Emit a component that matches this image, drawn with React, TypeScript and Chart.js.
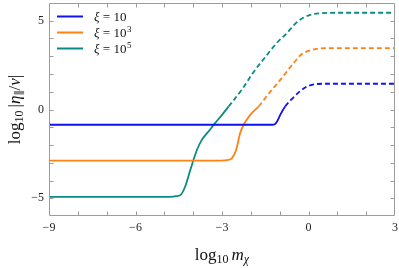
import React, { useEffect, useRef } from "react";
import { Chart, registerables } from "chart.js";

Chart.register(...registerables);

const X_MIN = -9;
const X_MAX = 3;
const Y_MIN = -6;
const Y_MAX = 6;
const xTickLabels = [-9, -6, -3, 0, 3];
const yTickLabels = [-5, 0, 5];

const seriesBase = ["10", "10", "10"];
const seriesExp = ["", "3", "5"];
const seriesColors = ["#1212ee", "#ff8214", "#0b8a84"];

const blueX = [-9, -2, -1.3, -1.21, -1.15, -1.09, -0.98, -0.81, -0.6, -0.35, -0.1, 0.15, 0.5, 1.2, 3];
const blueY = [-0.86, -0.86, -0.86, -0.85, -0.8, -0.68, -0.3, 0.17, 0.55, 0.95, 1.25, 1.4, 1.45, 1.45, 1.45];

const orangeX = [-9, -3.2, -2.9, -2.78, -2.66, -2.51, -2.37, -2.25, -2.02, -1.73, -1.4, -0.98, -0.5, -0.25, 0, 0.3, 0.8, 3];
const orangeY = [-2.88, -2.88, -2.87, -2.84, -2.75, -2.28, -1.33, -0.86, -0.3, 0.17, 0.85, 1.67, 2.65, 3.1, 3.3, 3.42, 3.46, 3.46];

const tealX = [-9, -5, -4.7, -4.6, -4.45, -4.28, -4.1, -3.99, -3.87, -3.7, -3.47, -3.24, -3.0, -2.77, -2.3, -1.91, -1.5, -1.1, -0.75, -0.45, -0.2, 0.1, 0.5, 1, 3];
const tealY = [-4.92, -4.92, -4.91, -4.88, -4.83, -4.35, -3.41, -2.84, -2.28, -1.71, -1.24, -0.77, -0.3, 0.17, 1.15, 2.1, 2.95, 3.75, 4.3, 4.85, 5.15, 5.35, 5.43, 5.45, 5.45];

const DASH_THRESHOLD = 0.1;
const SERIF = "'Liberation Serif', 'DejaVu Serif', serif";

type Run = { text: string; font: string; dy?: number };

function drawRuns(ctx: CanvasRenderingContext2D, runs: Run[], cx: number, baseline: number) {
  let total = 0;
  const widths = runs.map((r) => {
    ctx.font = r.font;
    const w = ctx.measureText(r.text).width;
    total += w;
    return w;
  });
  let x = cx - total / 2;
  ctx.textAlign = "left";
  ctx.textBaseline = "alphabetic";
  runs.forEach((r, i) => {
    ctx.font = r.font;
    ctx.fillText(r.text, x, baseline + (r.dy || 0));
    x += widths[i];
  });
}

const decorPlugin = {
  id: "decor",
  afterDatasetsDraw(chart: any) {
    const { ctx, chartArea: a, scales } = chart;
    ctx.save();
    const L = Math.round(a.left) + 0.5;
    const R = Math.round(a.right) - 0.5;
    const T = Math.round(a.top) + 0.5;
    const B = Math.round(a.bottom) - 0.5;
    ctx.strokeStyle = "#9c9c9c";
    ctx.lineWidth = 1;
    ctx.beginPath();
    ctx.rect(L, T, R - L, B - T);
    ctx.stroke();
    const tl = 4;
    ctx.beginPath();
    for (let v = X_MIN + 1; v < X_MAX; v++) {
      const px = Math.round(scales.x.getPixelForValue(v)) + 0.5;
      ctx.moveTo(px, B);
      ctx.lineTo(px, B - tl);
      ctx.moveTo(px, T);
      ctx.lineTo(px, T + tl);
    }
    for (let v = Y_MIN + 1; v < Y_MAX; v++) {
      const py = Math.round(scales.y.getPixelForValue(v)) + 0.5;
      ctx.moveTo(L, py);
      ctx.lineTo(L + tl, py);
      ctx.moveTo(R, py);
      ctx.lineTo(R - tl, py);
    }
    ctx.stroke();

    // legend
    ctx.fillStyle = "#111";
    const lx0 = a.left + 8;
    const lx1 = a.left + 34;
    chart.data.datasets.forEach((ds: any, i: number) => {
      const y = a.top + 13.5 + i * 16;
      ctx.strokeStyle = ds.borderColor;
      ctx.lineWidth = 2;
      ctx.beginPath();
      ctx.moveTo(lx0, y);
      ctx.lineTo(lx1, y);
      ctx.stroke();
      ctx.textAlign = "left";
      ctx.textBaseline = "alphabetic";
      let x = a.left + 45;
      const bl = y + 4.5;
      ctx.font = `italic 13px ${SERIF}`;
      ctx.fillText("ξ", x, bl);
      x += ctx.measureText("ξ").width;
      ctx.font = `13px ${SERIF}`;
      const mid = " = " + seriesBase[i];
      ctx.fillText(mid, x, bl);
      x += ctx.measureText(mid).width;
      if (seriesExp[i]) {
        ctx.font = `9px ${SERIF}`;
        ctx.fillText(seriesExp[i], x + 0.5, bl - 5.5);
      }
    });

    // x title
    ctx.fillStyle = "#111";
    drawRuns(
      ctx,
      [
        { text: "log", font: `17px ${SERIF}` },
        { text: "10", font: `12px ${SERIF}`, dy: 3 },
        { text: " ", font: `12px ${SERIF}` },
        { text: "m", font: `italic 17px ${SERIF}` },
        { text: "χ", font: `italic 12px ${SERIF}`, dy: 3 },
      ],
      (a.left + a.right) / 2,
      260
    );

    // y title
    ctx.save();
    ctx.translate(20, (a.top + a.bottom) / 2);
    ctx.rotate(-Math.PI / 2);
    drawRuns(
      ctx,
      [
        { text: "log", font: `17px ${SERIF}` },
        { text: "10", font: `12px ${SERIF}`, dy: 3 },
        { text: " ", font: `12px ${SERIF}` },
        { text: "|", font: `17px ${SERIF}` },
        { text: "η", font: `italic 17px ${SERIF}` },
        { text: "∥", font: `11px ${SERIF}`, dy: 3 },
        { text: "/", font: `17px ${SERIF}` },
        { text: "v", font: `italic 17px ${SERIF}` },
        { text: "|", font: `17px ${SERIF}` },
      ],
      0,
      0
    );
    ctx.restore();
    ctx.restore();
  },
};

function fmt(v: number) {
  return v < 0 ? "\u2212" + Math.abs(v) : String(v);
}

export default function App() {
  const ref = useRef<HTMLCanvasElement | null>(null);
  useEffect(() => {
    document.body.style.margin = "0";
    if (!ref.current) return;
    const mk = (xs: number[], ys: number[], i: number) => ({
      label: "ξ = " + seriesBase[i] + seriesExp[i],
      data: xs.map((x, k) => ({ x, y: ys[k] })),
      borderColor: seriesColors[i],
      backgroundColor: seriesColors[i],
      borderWidth: 1.8,
      pointRadius: 0,
      fill: false,
      cubicInterpolationMode: "monotone" as const,
      segment: {
        borderDash: (c: any) => (c.p0.parsed.y > DASH_THRESHOLD ? [5, 3] : undefined),
      },
    });
    const chart = new Chart(ref.current, {
      type: "line",
      data: {
        datasets: [mk(blueX, blueY, 0), mk(orangeX, orangeY, 1), mk(tealX, tealY, 2)],
      },
      options: {
        animation: false,
        responsive: false,
        maintainAspectRatio: false,
        layout: { padding: { top: 3, right: 4, left: 0, bottom: 0 } },
        plugins: { legend: { display: false }, tooltip: { enabled: false } },
        scales: {
          x: {
            type: "linear",
            min: X_MIN,
            max: X_MAX,
            grid: { display: false, drawTicks: false, tickLength: 0 },
            border: { display: false },
            afterFit: (s: any) => {
              s.height = 52;
              s.paddingLeft = 0;
              s.paddingRight = 0;
            },
            afterBuildTicks: (s: any) => {
              s.ticks = xTickLabels.map((v) => ({ value: v }));
            },
            ticks: {
              autoSkip: false,
              maxRotation: 0,
              padding: 5,
              color: "#222",
              font: { family: SERIF, size: 12 },
              callback: (v: any) => fmt(Number(v)),
            },
          },
          y: {
            type: "linear",
            min: Y_MIN,
            max: Y_MAX,
            grid: { display: false, drawTicks: false, tickLength: 0 },
            border: { display: false },
            afterFit: (s: any) => {
              s.width = 49;
              s.paddingTop = 0;
              s.paddingBottom = 0;
            },
            afterBuildTicks: (s: any) => {
              s.ticks = yTickLabels.map((v) => ({ value: v }));
            },
            ticks: {
              autoSkip: false,
              padding: 5,
              color: "#222",
              font: { family: SERIF, size: 12 },
              callback: (v: any) => fmt(Number(v)),
            },
          },
        },
      },
      plugins: [decorPlugin],
    });
    return () => chart.destroy();
  }, []);
  return (
    <div style={{ width: 399, height: 268 }}>
      <canvas ref={ref} width={399} height={268} style={{ display: "block" }} />
    </div>
  );
}
